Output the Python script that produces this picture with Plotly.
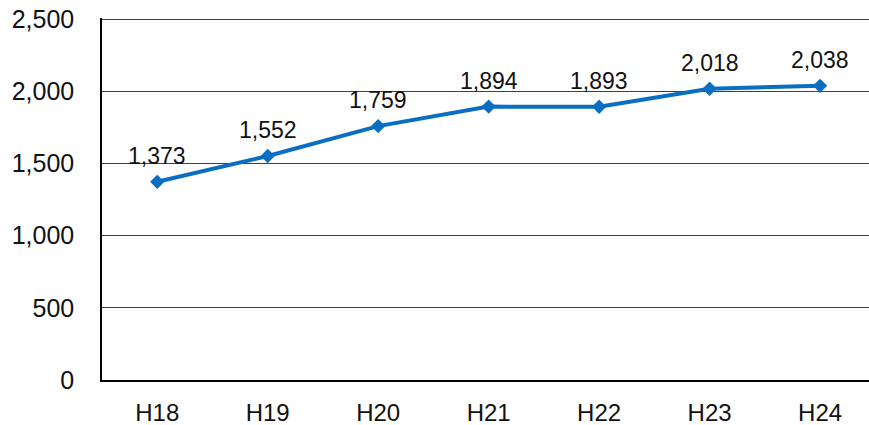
import plotly.graph_objects as go

categories = ["H18", "H19", "H20", "H21", "H22", "H23", "H24"]
values = [1373, 1552, 1759, 1894, 1893, 2018, 2038]
y_ticks = [0, 500, 1000, 1500, 2000, 2500]
y_tick_labels = ["0", "500", "1,000", "1,500", "2,000", "2,500"]

BLUE = "#0A6FC2"
FONT = "Liberation Sans, Arial, sans-serif"

fig = go.Figure()
fig.add_trace(go.Scatter(
    x=categories, y=values, mode="lines+markers",
    line=dict(color=BLUE, width=4),
    marker=dict(symbol="diamond", size=11, color=BLUE),
    hoverinfo="skip", showlegend=False,
))

for c, v in zip(categories, values):
    fig.add_annotation(x=c, y=v, text=f"{v:,}", showarrow=False,
                       yshift=26, font=dict(family=FONT, size=23, color="#111"))

fig.update_layout(
    width=869, height=425, autosize=False,
    margin=dict(l=102, r=0, t=18, b=45),
    paper_bgcolor="white", plot_bgcolor="white",
    font=dict(family=FONT, size=24, color="#111"),
)
fig.update_xaxes(
    type="category", range=[-0.5, 6.443], automargin=False,
    showline=True, linecolor="black", linewidth=1.5,
    showgrid=False, ticks="", ticklabelstandoff=10,
    tickfont=dict(family=FONT, size=24, color="#111"),
)
fig.update_yaxes(
    range=[0, 2508], tickvals=y_ticks, ticktext=y_tick_labels,
    automargin=False,
    showline=True, linecolor="black", linewidth=1.5,
    showgrid=True, gridcolor="#404040", gridwidth=1,
    zeroline=False, ticks="", ticklabelstandoff=21,
    ticklabeloverflow="allow",
    tickfont=dict(family=FONT, size=25, color="#111"),
)

fig.write_html(
    "out.html",
    config={"displayModeBar": False},
    post_script="document.body.style.margin='0';document.body.style.overflow='hidden';",
)
